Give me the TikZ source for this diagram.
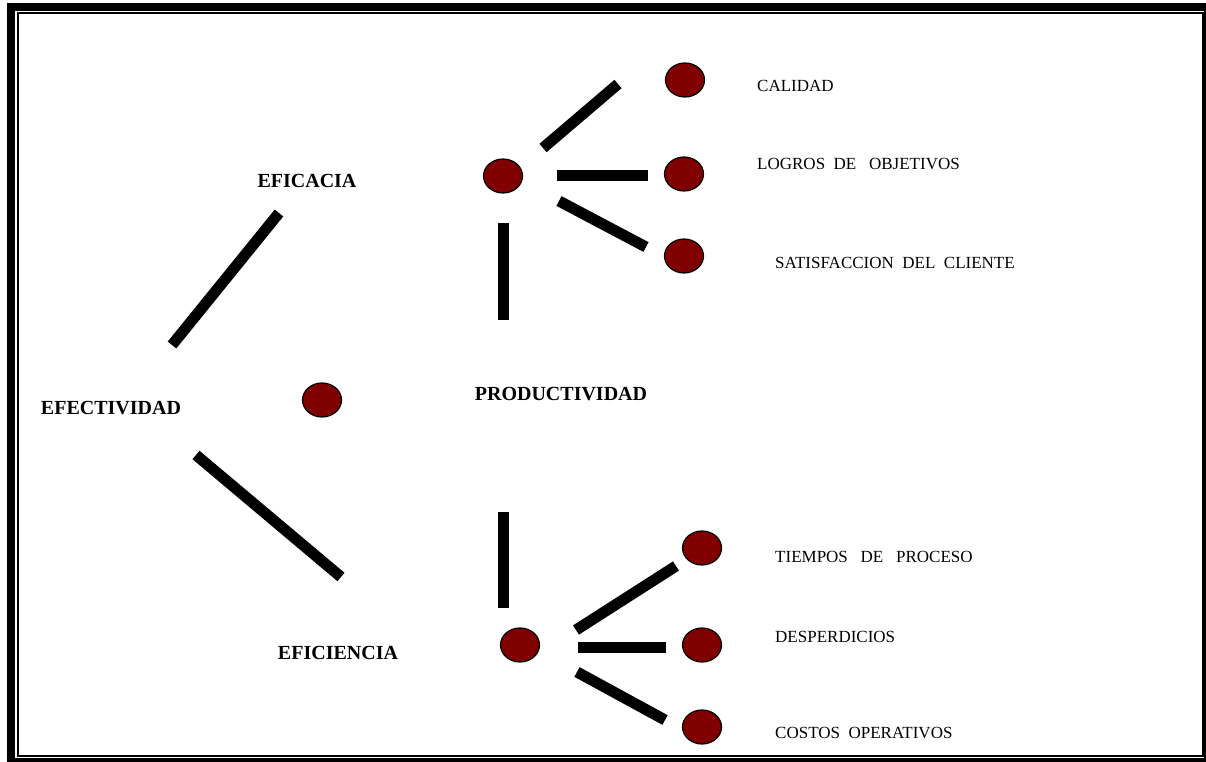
\documentclass[tikz,border=0pt]{standalone}
\usepackage{fontspec}
\setmainfont{Liberation Serif}
\usetikzlibrary{shapes.geometric}
\definecolor{darkred}{RGB}{128,0,0}
\tikzset{
	dot/.style = {ellipse, draw = black, line width = 1.2pt, fill = darkred, minimum width = 39pt, minimum height = 34pt, inner sep = 0pt},
	bar/.style = {line width = 11pt},
	head/.style = {font = \fontsize{20}{24}\selectfont\bfseries, inner sep = 0pt},
	item/.style = {font = \fontsize{17}{20}\selectfont, anchor = west, inner sep = 0pt}
}
\begin{document}
\begin{tikzpicture}[x = 1pt, y = -1pt]
	\useasboundingbox (0,0) rectangle (1206,762);
	% frame
	\draw [line width = 8pt] (11,7) rectangle (1208,762);
	\draw [line width = 2pt] (18,13.3) rectangle (1202.5,755.5);
	% headings
	\node [head] (efectividad) at (111,408) {EFECTIVIDAD};
	\node [head] (eficacia) at (307,181) {EFICACIA};
	\node [head] (eficiencia) at (338,653) {EFICIENCIA};
	\node [head] (productividad) at (561,394) {PRODUCTIVIDAD};
	% dots
	\node [dot] (mid) at (322,400) {};
	\node [dot] (top) at (503,176) {};
	\node [dot] (bot) at (520,645) {};
	\node [dot] (calidad) at (685,80) {};
	\node [dot] (logros) at (684,174) {};
	\node [dot] (satisf) at (684,256) {};
	\node [dot] (tiempos) at (702,548) {};
	\node [dot] (desperd) at (702,645) {};
	\node [dot] (costos) at (702,727) {};
	% items
	\node [item] at (757,86) {CALIDAD};
	\node [item] at (757,164) {LOGROS\ \ DE\ \ \ OBJETIVOS};
	\node [item] at (775,263) {SATISFACCION\ \ DEL\ \ CLIENTE};
	\node [item] at (775,556.5) {TIEMPOS\ \ \ DE\ \ \ PROCESO};
	\node [item] at (775,637) {DESPERDICIOS};
	\node [item] at (775,732.5) {COSTOS\ \ OPERATIVOS};
	% bar ends
	\coordinate (a1) at (172,345); \coordinate (a2) at (279,213);
	\coordinate (b1) at (196,455); \coordinate (b2) at (341,577);
	\coordinate (c1) at (503.5,223); \coordinate (c2) at (503.5,320);
	\coordinate (d1) at (503.5,512); \coordinate (d2) at (503.5,608);
	\coordinate (e1) at (543,148); \coordinate (e2) at (618,84);
	\coordinate (f1) at (557,176); \coordinate (f2) at (648,176);
	\coordinate (g1) at (559,201); \coordinate (g2) at (646,247);
	\coordinate (h1) at (576,630); \coordinate (h2) at (676,566);
	\coordinate (i1) at (578,647); \coordinate (i2) at (666,647);
	\coordinate (j1) at (577,672); \coordinate (j2) at (665,720);
	% bars
	\foreach \s in {a,b,c,d,e,f,g,h,i,j}
		\draw [bar] (\s1) -- (\s2);
\end{tikzpicture}
\end{document}
